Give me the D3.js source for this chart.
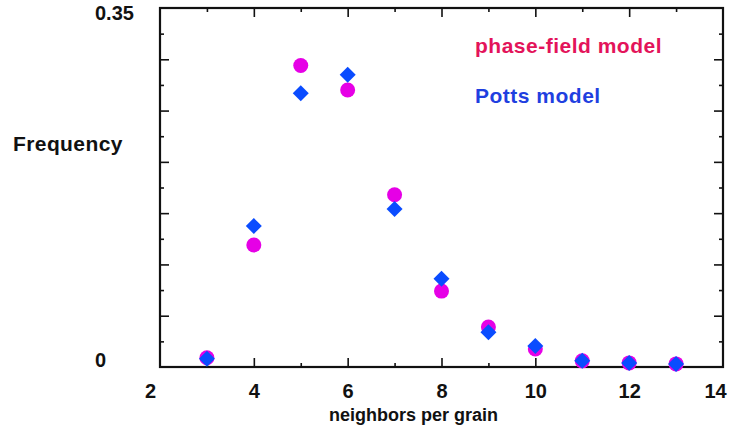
<!DOCTYPE html>
<html>
<head>
<meta charset="utf-8">
<script src="https://cdn.jsdelivr.net/npm/d3@7"></script>
<style>
  body { margin: 0; background: #fff; }
  svg text { font-family: "Liberation Sans", Arial, sans-serif; font-weight: bold; }
  .axis path, .axis line { stroke: #111; }
</style>
</head>
<body>
<div id="chart"></div>
<script>
// neighbor-count distribution
const neighbors = [3, 4, 5, 6, 7, 8, 9, 10, 11, 12, 13];
const phaseField = [0.009, 0.119, 0.294, 0.270, 0.168, 0.074, 0.039, 0.0175, 0.006, 0.004, 0.003];
const potts = [0.008, 0.1375, 0.267, 0.285, 0.154, 0.086, 0.034, 0.0205, 0.006, 0.004, 0.003];

const xMajor = [2, 4, 6, 8, 10, 12, 14];
const xMinor = [3, 5, 7, 9, 11, 13];
const yMajor = [0, 0.05, 0.1, 0.15, 0.2, 0.25, 0.3, 0.35];
const yMinor = [0.025, 0.075, 0.125, 0.175, 0.225, 0.275, 0.325];
const yLabels = [0, 0.35];

const legendNames = ['phase-field model', 'Potts model'];
const legendColors = ['#e3135a', '#1f3fe0'];

const fullWidth = 731, fullHeight = 441;
const margin = {top: 8, right: 8, bottom: 74, left: 160};
const width = fullWidth - margin.left - margin.right;
const height = fullHeight - margin.top - margin.bottom;

const svg = d3.select('#chart').append('svg')
  .attr('width', fullWidth)
  .attr('height', fullHeight)
  .append('g')
    .attr('transform', 'translate(' + margin.left + ',' + margin.top + ')');

const x = d3.scaleLinear().domain([2, 14]).range([0, width]);
const y = d3.scaleLinear().domain([0, 0.35]).range([height, 0]);

// ticks point inward on all four sides
function addAxis(axis, cls, tx, ty) {
  const g = svg.append('g').attr('class', 'axis ' + cls)
    .attr('transform', 'translate(' + tx + ',' + ty + ')')
    .call(axis);
  g.selectAll('.domain').remove();
  g.selectAll('line').attr('stroke-width', 1.6);
  return g;
}

const bottomMajor = addAxis(d3.axisBottom(x).tickValues(xMajor).tickSize(-9).tickFormat(d3.format('d')), 'x', 0, height);
bottomMajor.selectAll('text')
  .attr('y', 17)
  .attr('dx', d => d === 2 ? -10 : d === 14 ? -8 : 0)
  .attr('fill', '#111')
  .style('font-size', '20px');
bottomMajor.selectAll('.tick').filter(d => d === 2 || d === 14).select('line').remove();
addAxis(d3.axisBottom(x).tickValues(xMinor).tickSize(-4).tickFormat(''), 'x', 0, height);
addAxis(d3.axisTop(x).tickValues(xMajor.slice(1, -1)).tickSize(-9).tickFormat(''), 'x', 0, 0);
addAxis(d3.axisTop(x).tickValues(xMinor).tickSize(-4).tickFormat(''), 'x', 0, 0);

addAxis(d3.axisLeft(y).tickValues(yMajor.slice(1, -1)).tickSize(-9).tickFormat(''), 'y', 0, 0);
addAxis(d3.axisLeft(y).tickValues(yMinor).tickSize(-4).tickFormat(''), 'y', 0, 0);
addAxis(d3.axisRight(y).tickValues(yMajor.slice(1, -1)).tickSize(-9).tickFormat(''), 'y', width, 0);
addAxis(d3.axisRight(y).tickValues(yMinor).tickSize(-4).tickFormat(''), 'y', width, 0);

// frame
svg.append('rect')
  .attr('x', 0).attr('y', 0)
  .attr('width', width).attr('height', height)
  .attr('fill', 'none')
  .attr('stroke', '#111')
  .attr('stroke-width', 2.2);

// y labels only at the ends, left-aligned away from the axis
svg.selectAll('text.ylab')
  .data(yLabels)
  .enter().append('text')
  .attr('class', 'ylab')
  .attr('x', -65)
  .attr('y', d => y(d) + (d === 0 ? -7 : 5))
  .attr('dy', '0.35em')
  .attr('fill', '#111')
  .style('font-size', '20px')
  .text(d => d === 0 ? '0' : d3.format('.2f')(d));

svg.append('text')
  .attr('x', -147)
  .attr('y', 136)
  .attr('dy', '0.35em')
  .attr('fill', '#111')
  .style('font-size', '21px')
  .style('letter-spacing', '0.4px')
  .text('Frequency');

svg.append('text')
  .attr('x', width / 2 - 28)
  .attr('y', height + 48)
  .attr('dy', '0.35em')
  .attr('text-anchor', 'middle')
  .attr('fill', '#111')
  .style('font-size', '18px')
  .text('neighbors per grain');

// legend
svg.selectAll('text.legend')
  .data(legendNames)
  .enter().append('text')
  .attr('class', 'legend')
  .attr('x', 315)
  .attr('y', (d, i) => 38 + i * 50)
  .attr('dy', '0.35em')
  .attr('fill', (d, i) => legendColors[i])
  .style('font-size', '21px')
  .style('letter-spacing', '0.5px')
  .text(d => d);

// phase-field: magenta circles
svg.selectAll('circle.pf')
  .data(neighbors)
  .enter().append('circle')
  .attr('class', 'pf')
  .attr('cx', d => x(d))
  .attr('cy', (d, i) => y(phaseField[i]))
  .attr('r', 7.5)
  .attr('fill', '#e600e6');

// Potts: blue diamonds on top
const diamond = d3.symbol().type(d3.symbolSquare).size(128);
svg.selectAll('path.potts')
  .data(neighbors)
  .enter().append('path')
  .attr('class', 'potts')
  .attr('d', diamond)
  .attr('transform', (d, i) => 'translate(' + x(d) + ',' + y(potts[i]) + ') rotate(45)')
  .attr('fill', '#0a4cff');
</script>
</body>
</html>
